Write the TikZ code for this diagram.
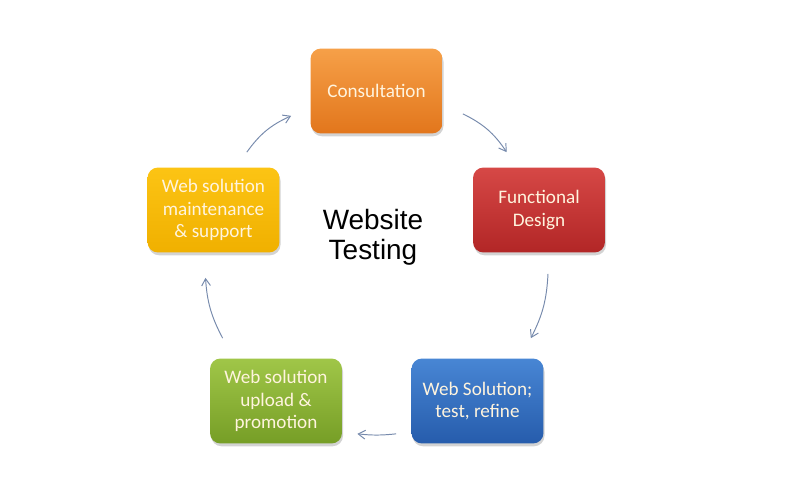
\documentclass[tikz,border=0pt]{standalone}
\usepackage{fontspec}
\setmainfont{Carlito}
\newfontfamily\titlefont{Liberation Sans}
\usetikzlibrary{arrows.meta,shadows}
\definecolor{orangetop}{RGB}{246,160,72}
\definecolor{orangebot}{RGB}{226,118,28}
\definecolor{redtop}{RGB}{214,72,70}
\definecolor{redbot}{RGB}{178,38,38}
\definecolor{bluetop}{RGB}{72,134,212}
\definecolor{bluebot}{RGB}{38,92,172}
\definecolor{greentop}{RGB}{160,198,72}
\definecolor{greenbot}{RGB}{118,158,38}
\definecolor{yellowtop}{RGB}{252,196,20}
\definecolor{yellowbot}{RGB}{240,176,0}
\definecolor{boxtext}{RGB}{255,244,222}
\definecolor{arrowcol}{RGB}{118,138,172}
\begin{document}
\begin{tikzpicture}[
  x=0.02cm, y=-0.02cm,
  >={Straight Barb[length=4pt,width=5pt]},
  cycbox/.style={rectangle, rounded corners=6pt, draw=none, minimum width=2.64cm, minimum height=1.7cm,
    align=center, text=boxtext, font={\fontsize{10.9}{12.6}\selectfont},
    drop shadow={shadow xshift=0.6pt, shadow yshift=-1.6pt, opacity=0.35, fill=black!50}},
  cycedge/.style={->, draw=arrowcol, line width=0.55pt},
  title/.style={align=center, font={\titlefont\fontsize{15.9}{17}\selectfont}}
]
\useasboundingbox (0,0) rectangle (785,500);
\node[cycbox, top color=orangetop, bottom color=orangebot] (n1) at (376.5,91) {Consultation};
\node[cycbox, top color=redtop, bottom color=redbot] (n2) at (539,210) {Functional\\Design};
\node[cycbox, top color=bluetop, bottom color=bluebot] (n3) at (477.5,401) {Web Solution;\\test, refine};
\node[cycbox, top color=greentop, bottom color=greenbot] (n4) at (276,401) {Web solution\\upload \&\\promotion};
\node[cycbox, top color=yellowtop, bottom color=yellowbot] (n5) at (213.5,210) {Web solution\\maintenance\\\& support};
\node[title] (mid) at (373,237) {Website\\Testing};
\draw[cycedge] ([shift={(20,-20)}]n1.south east) to[bend left=15] ([shift={(34,-15)}]n2.north west);
\draw[cycedge] ([shift={(9,21)}]n2.south) to[bend left=12] ([shift={(-13,-20)}]n3.north east);
\draw[cycedge] ([shift={(-15,-10)}]n3.south west) to[bend left=6] ([shift={(15,-10)}]n4.south east);
\draw[cycedge] ([shift={(13,-20)}]n4.north west) to[bend left=12] ([shift={(-8,25)}]n5.south);
\draw[cycedge] ([shift={(-33,-15)}]n5.north east) to[bend left=15] ([shift={(-19,-18)}]n1.south west);
\end{tikzpicture}
\end{document}
